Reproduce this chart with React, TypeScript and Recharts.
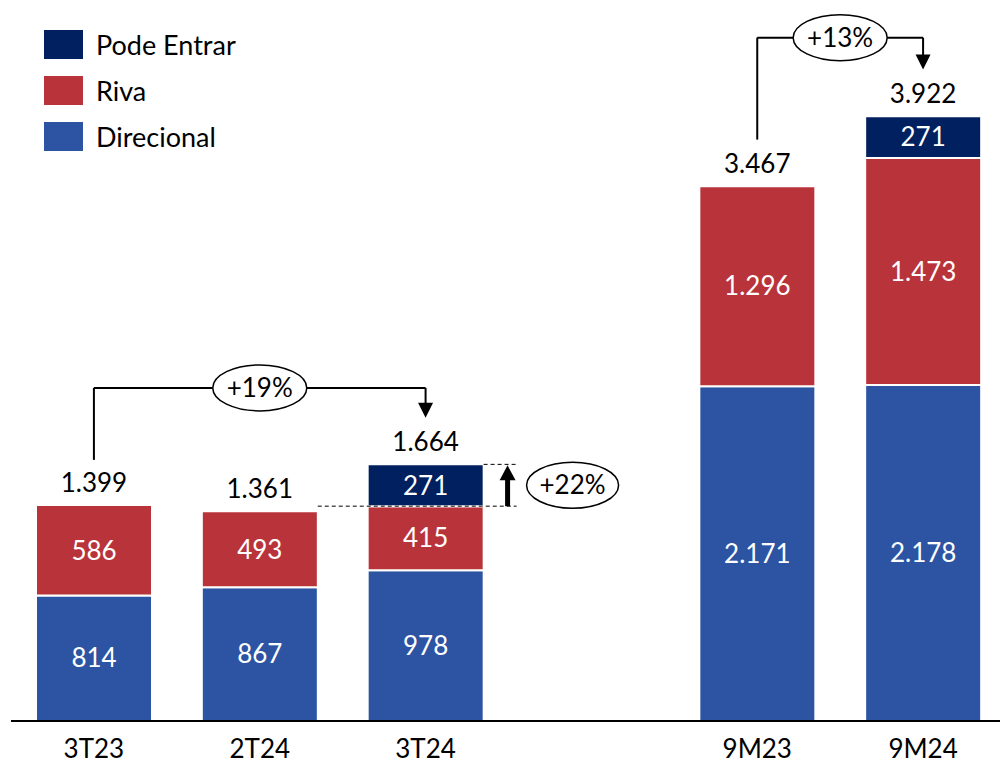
import React from "react";
import { Bar, BarChart, LabelList, ReferenceDot, ReferenceLine, XAxis, YAxis } from "recharts";

const FONT = "Lato, 'Noto Sans', sans-serif";
const FS = 26;

const categories = ["3T23", "2T24", "3T24", "", "9M23", "9M24"];
const direcional = [814, 867, 978, null, 2171, 2178];
const riva = [586, 493, 415, null, 1296, 1473];
const podeEntrar = [null, null, 271, null, null, 271];
const totals = [1399, 1361, 1664, null, 3467, 3922];

const seriesNames = ["Pode Entrar", "Riva", "Direcional"];
const seriesColors = ["#002060", "#B9343A", "#2C54A3"];

const data = categories.map((name, i) => ({
  name,
  direcional: direcional[i],
  riva: riva[i],
  podeEntrar: podeEntrar[i],
}));

const fmt = (v: any) => (v == null || v === "" ? "" : Number(v).toLocaleString("de-DE"));

function LegendBox() {
  return (
    <div style={{ position: "absolute", left: 44, top: 21, fontFamily: FONT, fontSize: 27, color: "#000", zIndex: 2 }}>
      {seriesNames.map((n, i) => (
        <div key={n} style={{ display: "flex", alignItems: "center", height: 46 }}>
          <div style={{ width: 39, height: 29, background: seriesColors[i] }} />
          <span style={{ marginLeft: 13 }}>{n}</span>
        </div>
      ))}
    </div>
  );
}

function totalText(text: string) {
  return (props: any) => (
    <text x={props.cx} y={props.cy - 13} textAnchor="middle" fontSize={FS} fontFamily={FONT} fill="#000">
      {text}
    </text>
  );
}

function Tick(props: any) {
  const { x, y, payload } = props;
  return (
    <text x={x} y={y + 29} textAnchor="middle" fontSize={FS} fontFamily={FONT} fill="#000">
      {payload.value}
    </text>
  );
}

// bracket pieces
function Plain(props: any) {
  const { x1, y1, x2, y2 } = props;
  return <line x1={x1} y1={y1} x2={x2} y2={y2} stroke="#000" strokeWidth={2} />;
}

function ArrowDown(props: any) {
  const { x1, y1, x2, y2 } = props;
  const tip = Math.max(y1, y2);
  const top = Math.min(y1, y2);
  return (
    <g>
      <line x1={x1} y1={top} x2={x2} y2={tip - 12} stroke="#000" strokeWidth={2} />
      <polygon points={`${x2 - 7.5},${tip - 15} ${x2 + 7.5},${tip - 15} ${x2},${tip}`} fill="#000" />
    </g>
  );
}

function Bubble(text: string) {
  return (props: any) => {
    const { x1, y1, x2, y2 } = props;
    const cx = (x1 + x2) / 2;
    const cy = (y1 + y2) / 2;
    return (
      <g>
        <line x1={x1} y1={y1} x2={x2} y2={y2} stroke="#000" strokeWidth={2} />
        <ellipse cx={cx} cy={cy} rx={47} ry={23} fill="#fff" stroke="#000" strokeWidth={1.5} />
        <text x={cx} y={cy + 9} textAnchor="middle" fontSize={FS} fontFamily={FONT} fill="#000">
          {text}
        </text>
      </g>
    );
  };
}

// +22% growth marker next to 3T24
function Growth(props: any) {
  const { x1, y1, x2, y2 } = props;
  const half = 58;
  const end = x2 + 91;
  const ax = x2 + 82;
  const ex = x2 + 147;
  return (
    <g>
      <line x1={x1 + half} y1={y1} x2={end} y2={y1} stroke="#000" strokeWidth={1} strokeDasharray="4 3" />
      <line x1={x2 + half} y1={y2} x2={end} y2={y2} stroke="#000" strokeWidth={1} strokeDasharray="4 3" />
      <line x1={ax} y1={y1} x2={ax} y2={y2 + 14} stroke="#000" strokeWidth={5} />
      <polygon points={`${ax - 8},${y2 + 16} ${ax + 8},${y2 + 16} ${ax},${y2 + 1}`} fill="#000" />
      <ellipse cx={ex} cy={(y1 + y2) / 2} rx={46} ry={23} fill="#fff" stroke="#000" strokeWidth={1.5} />
      <text x={ex} y={(y1 + y2) / 2 + 9} textAnchor="middle" fontSize={FS} fontFamily={FONT} fill="#000">
        +22%
      </text>
    </g>
  );
}

export default function App() {
  return (
    <div style={{ position: "absolute", left: 0, top: 0, width: 1000, height: 763, overflow: "hidden", background: "#fff" }}>
      <LegendBox />
      <BarChart width={1006} height={763} data={data} margin={{ top: 27, right: 0, bottom: 0, left: 11 }} barSize={116}>
        <XAxis
          dataKey="name"
          height={42}
          axisLine={{ stroke: "#000", strokeWidth: 2 }}
          tickLine={false}
          tick={<Tick />}
          interval={0}
        />
        <YAxis hide domain={[0, 4500]} allowDataOverflow />
        <Bar dataKey="direcional" stackId="a" fill={seriesColors[2]} stroke="#fff" strokeWidth={2} isAnimationActive={false}>
          <LabelList dataKey="direcional" position="center" formatter={fmt} fill="#fff" fontSize={FS} fontFamily={FONT} />
        </Bar>
        <Bar dataKey="riva" stackId="a" fill={seriesColors[1]} stroke="#fff" strokeWidth={2} isAnimationActive={false}>
          <LabelList dataKey="riva" position="center" formatter={fmt} fill="#fff" fontSize={FS} fontFamily={FONT} />
        </Bar>
        <Bar dataKey="podeEntrar" stackId="a" fill={seriesColors[0]} stroke="#fff" strokeWidth={2} isAnimationActive={false}>
          <LabelList dataKey="podeEntrar" position="center" formatter={fmt} fill="#fff" fontSize={FS} fontFamily={FONT} />
        </Bar>

        {categories.map((c, i) =>
          totals[i] == null ? null : (
            <ReferenceDot key={"t" + c} x={c} y={totals[i] as number} shape={totalText(fmt(totals[i]))} />
          )
        )}

        {/* +19% 3T23 -> 3T24 */}
        <ReferenceLine segment={[{ x: "3T23", y: 1693 }, { x: "3T23", y: 2160 }]} shape={<Plain />} />
        <ReferenceLine segment={[{ x: "3T23", y: 2160 }, { x: "3T24", y: 2160 }]} shape={Bubble("+19%")} />
        <ReferenceLine segment={[{ x: "3T24", y: 2160 }, { x: "3T24", y: 1966 }]} shape={<ArrowDown />} />

        {/* +13% 9M23 -> 9M24 */}
        <ReferenceLine segment={[{ x: "9M23", y: 3770 }, { x: "9M23", y: 4431 }]} shape={<Plain />} />
        <ReferenceLine segment={[{ x: "9M23", y: 4431 }, { x: "9M24", y: 4431 }]} shape={Bubble("+13%")} />
        <ReferenceLine segment={[{ x: "9M24", y: 4431 }, { x: "9M24", y: 4224 }]} shape={<ArrowDown />} />

        {/* +22% Pode Entrar on top of 3T24 */}
        <ReferenceLine segment={[{ x: "2T24", y: 1393 }, { x: "3T24", y: 1664 }]} shape={<Growth />} />
      </BarChart>
    </div>
  );
}
